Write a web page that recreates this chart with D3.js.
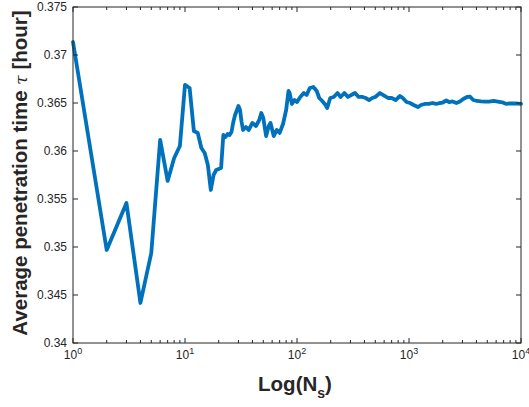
<!DOCTYPE html>
<html><head><meta charset="utf-8">
<script src="https://cdn.jsdelivr.net/npm/d3@7"></script>
<style>body{margin:0;background:#fff}svg{display:block}</style>
</head><body>
<svg id="c" width="529" height="407"></svg>
<script>
const sampleN = [1,2,3,4,5,6,7,8,9,10,11,12,13,14,15,16,17,18,19,20,21,22,23,24,25,26,27,28,30,31,32,33,35,37,40,43,46,48,50,53,56,58,62,66,70,75,80,84,86,90,95,100,107,115,122,130,140,150,158,168,180,186,198,213,230,245,265,285,305,330,355,385,410,440,470,500,550,590,650,700,760,830,880,950,1020,1100,1200,1280,1380,1500,1620,1750,1880,2000,2150,2280,2450,2650,2850,3050,3300,3500,3750,4050,4400,4800,5200,5700,6200,6800,7400,8000,8800,10000];
const tauAvg = [0.37135,0.34969,0.35458,0.34417,0.34938,0.36115,0.35688,0.35927,0.36052,0.36688,0.36656,0.36208,0.36188,0.36031,0.35979,0.35854,0.35594,0.35750,0.35802,0.35813,0.35823,0.36167,0.36146,0.36177,0.36167,0.36198,0.36302,0.36375,0.36469,0.36427,0.36302,0.36219,0.36250,0.36219,0.36292,0.36260,0.36323,0.36396,0.36344,0.36156,0.36260,0.36292,0.36156,0.36219,0.36188,0.36281,0.36427,0.36625,0.36604,0.36490,0.36531,0.36510,0.36563,0.36604,0.36583,0.36656,0.36667,0.36625,0.36552,0.36521,0.36479,0.36448,0.36552,0.36563,0.36604,0.36563,0.36604,0.36563,0.36583,0.36604,0.36563,0.36563,0.36552,0.36531,0.36552,0.36563,0.36604,0.36583,0.36552,0.36552,0.36531,0.36573,0.36552,0.36510,0.36500,0.36479,0.36458,0.36479,0.36490,0.36490,0.36500,0.36490,0.36500,0.36505,0.36526,0.36510,0.36516,0.36500,0.36516,0.36542,0.36563,0.36566,0.36531,0.36521,0.36516,0.36514,0.36514,0.36521,0.36514,0.36507,0.36490,0.36497,0.36495,0.36490];
const xTickExp = [0,1,2,3,4];
const yTicks = [0.34,0.345,0.35,0.355,0.36,0.365,0.37,0.375];
const yTickLabels = ["0.34","0.345","0.35","0.355","0.36","0.365","0.37","0.375"];

const svg = d3.select("#c");
const L=73,R=521,T=7,B=343;
const x = d3.scaleLog().domain([1,1e4]).range([L,R]);
const y = d3.scaleLinear().domain([0.34,0.375]).range([B,T]);
const axc = "#262626";
const font = "'Liberation Sans', Arial, Helvetica, sans-serif";

// line
const line = d3.line().x((d,i)=>x(sampleN[i])).y(d=>y(d));
svg.append("path").datum(tauAvg).attr("d",line)
  .attr("fill","none").attr("stroke","#0072BD").attr("stroke-width",3.8)
  .attr("stroke-linejoin","round").attr("stroke-linecap","round");

// box
svg.append("rect").attr("x",L).attr("y",T).attr("width",R-L).attr("height",B-T)
  .attr("fill","none").attr("stroke",axc).attr("stroke-width",1);

// x ticks (major + minor) on bottom and top
const minor=[];
for(let e=0;e<4;e++) for(let m=2;m<=9;m++) minor.push(m*Math.pow(10,e));
const g = svg.append("g").attr("stroke",axc).attr("stroke-width",1);
xTickExp.forEach(e=>{
  const px=x(Math.pow(10,e));
  g.append("line").attr("x1",px).attr("x2",px).attr("y1",B).attr("y2",B-5);
  g.append("line").attr("x1",px).attr("x2",px).attr("y1",T).attr("y2",T+5);
});
minor.forEach(v=>{
  const px=x(v);
  g.append("line").attr("x1",px).attr("x2",px).attr("y1",B).attr("y2",B-3);
  g.append("line").attr("x1",px).attr("x2",px).attr("y1",T).attr("y2",T+3);
});
yTicks.forEach(v=>{
  const py=y(v);
  g.append("line").attr("x1",L).attr("x2",L+5).attr("y1",py).attr("y2",py);
  g.append("line").attr("x1",R).attr("x2",R-5).attr("y1",py).attr("y2",py);
});

// y tick labels
yTicks.forEach((v,i)=>{
  svg.append("text").attr("x",L-6).attr("y",y(v)+4).attr("text-anchor","end")
    .attr("font-family",font).attr("font-size",12).attr("fill",axc).text(yTickLabels[i]);
});
// x tick labels
xTickExp.forEach(e=>{
  const t=svg.append("text").attr("x",x(Math.pow(10,e))).attr("y",359).attr("text-anchor","middle")
    .attr("font-family",font).attr("font-size",12).attr("fill",axc);
  t.append("tspan").text("10");
  t.append("tspan").attr("dy",-5).attr("font-size",9).text(String(e));
});

// x label
const xl=svg.append("text").attr("x",295).attr("y",391).attr("text-anchor","middle")
  .attr("font-family",font).attr("font-size",20.5).attr("font-weight","bold").attr("fill",axc);
xl.append("tspan").text("Log(N");
xl.append("tspan").attr("dy",7).attr("font-size",14).text("s");
xl.append("tspan").attr("dy",-7).text(")");

// y label
const yl=svg.append("text").attr("transform","translate(27,173) rotate(-90)").attr("text-anchor","middle")
  .attr("font-family",font).attr("font-size",20.5).attr("font-weight","bold").attr("fill",axc);
yl.append("tspan").text("Average penetration time ");
yl.append("tspan").attr("font-weight","normal").attr("font-style","italic").attr("font-family","'DejaVu Serif', serif").attr("font-size",17).text("τ");
yl.append("tspan").text(" [hour]");
</script>
</body></html>
